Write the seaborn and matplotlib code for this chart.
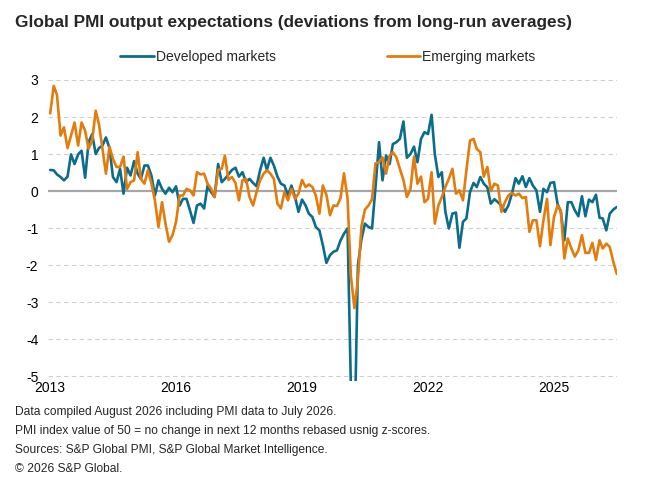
import pandas as pd
import numpy as np
import matplotlib
matplotlib.use("Agg")
import matplotlib.pyplot as plt
from matplotlib.lines import Line2D
import seaborn as sns

# monthly readings, Jan 2013 - Jul 2026
months = pd.date_range("2013-01-01", "2026-07-01", freq="MS")

developed = [
    0.57, 0.56, 0.45, 0.38, 0.29, 0.39, 0.99, 0.73, 0.99, 1.09,
    0.36, 1.32, 1.54, 1.0, 1.16, 1.23, 1.45, 1.16, 0.38, 0.24,
    0.6, -0.07, 0.63, 0.42, 0.81, 0.47, 0.33, 0.69, 0.69, 0.42,
    -0.12, 0.29, 0.06, -0.07, 0.09, -0.03, 0.13, -0.39, -0.21, -0.21,
    -0.52, -0.86, -0.39, -0.34, -0.47, 0.15, -0.03, -0.16, 0.73, 0.24,
    0.33, 0.45, 0.57, 0.63, 0.39, 0.51, 0.24, 0.33, 0.22, 0.13,
    0.56, 0.9, 0.57, 0.9, 0.69, 0.39, 0.2, 0.15, -0.12, 0.15,
    -0.16, -0.56, -0.23, -0.39, -0.61, -0.7, -0.97, -1.06, -1.46, -1.94,
    -1.73, -1.64, -1.6, -1.34, -1.15, -1.01, -5.3, -6.8, -2.0, -1.3,
    -0.88, -0.97, -1.01, 0.1, 1.32, 0.29, 0.96, 0.73, 1.27, 1.32,
    1.41, 1.88, 0.9, 1.0, 1.2, 0.78, 1.41, 1.59, 1.54, 2.06,
    1.0, 0.38, 0.51, -0.56, -1.01, -0.61, -0.58, -1.53, -0.83, -0.74,
    -0.03, 0.22, 0.11, 0.38, 0.2, 0.1, -0.34, -0.22, -0.3, -0.39,
    -0.56, -0.39, -0.07, 0.35, 0.2, 0.4, 0.11, 0.35, 0.15, 0.02,
    -0.56, 0.06, -0.03, 0.22, 0.24, -0.35, -0.55, -1.33, -0.3, -0.3,
    -0.52, -0.68, -0.14, -0.68, -0.23, -0.3, -0.1, -0.72, -0.74, -1.06,
    -0.61, -0.5, -0.43,
]

emerging = [
    2.1, 2.84, 2.6, 1.5, 1.72, 1.16, 1.5, 1.85, 1.23, 1.85,
    1.63, 1.14, 1.36, 2.17, 1.81, 1.14, 0.47, 1.2, 0.87, 0.65,
    0.65, 0.93, 0.06, 0.24, 0.29, 1.05, 0.33, 0.2, 0.56, 0.2,
    -0.25, -0.97, -0.3, -0.88, -1.37, -1.19, -0.83, -0.12, -0.12, 0.06,
    0.02, -0.12, 0.51, 0.45, 0.47, 0.2, 0.06, -0.16, 0.57, 0.6,
    0.96, 0.3, 0.38, 0.22, -0.25, 0.29, 0.33, -0.16, -0.39, -0.03,
    0.29, 0.47, 0.56, 0.47, 0.33, -0.34, -0.47, -0.03, -0.25, 0.06,
    -0.21, -0.07, 0.3, 0.11, 0.18, 0.11, -0.12, -0.61, 0.15, -0.1,
    -0.65, -0.39, -0.4, -0.2, 0.48, -0.2, -2.3, -3.16, -2.4, -0.95,
    -0.5, -0.39, -0.22, 0.75, 0.78, 0.91, 0.47, 0.96, 1.05, 0.91,
    0.6, 0.3, -0.16, 0.05, 0.93, 0.2, 0.39, -0.3, -0.21, 0.51,
    -0.88, -0.39, -0.16, 0.11, 0.33, 0.6, -0.07, 0.02, -0.25, 0.56,
    1.36, 1.41, 1.14, 1.05, 0.39, 0.65, 0.0, 0.2, 0.15, -0.56,
    -0.3, -0.12, -0.05, -0.12, -0.07, -0.19, -0.16, -1.1, -0.79, -0.79,
    -1.49, -0.79, -0.21, -1.46, -0.7, -0.39, -0.52, -1.82, -1.28, -1.55,
    -1.77, -1.6, -1.19, -1.67, -1.67, -1.4, -1.86, -1.33, -1.55, -1.42,
    -1.51, -1.91, -2.24,
]

series_names = ["Developed markets", "Emerging markets"]
colors = ["#0b6d8b", "#e37c0c"]
year_ticks = [2013, 2016, 2019, 2022, 2025]

notes = [
    "Data compiled August 2026 including PMI data to July 2026.",
    "PMI index value of 50 = no change in next 12 months rebased usnig z-scores.",
    "Sources: S&P Global PMI, S&P Global Market Intelligence.",
    "\u00a9 2026 S&P Global.",
]

df = pd.concat([
    pd.DataFrame({"date": months, "value": developed, "series": series_names[0]}),
    pd.DataFrame({"date": months, "value": emerging, "series": series_names[1]}),
])

sns.set_style("white")
plt.rcParams["font.family"] = ["Liberation Sans", "DejaVu Sans"]

fig = plt.figure(figsize=(6.58, 4.98), dpi=100)
ax = fig.add_axes([48 / 658, 1 - 381 / 498, (617 - 48) / 658, (381 - 80) / 498])

# grid first so lines sit on top
for v in range(-5, 4):
    if v == 0:
        continue
    ax.axhline(v, color="#d0d0d0", lw=0.8, ls=(0, (4, 3)), zorder=0)
ax.axhline(0, color="#a6a6a6", lw=1.6, zorder=1)

sns.lineplot(data=df, x="date", y="value", hue="series", palette=colors,
             hue_order=series_names, linewidth=1.9, legend=False, ax=ax, zorder=3)

ax.set_ylim(-5.13, 3.0)
ax.set_xlim(pd.Timestamp("2012-12-13"), pd.Timestamp("2026-07-03"))
ax.set_yticks(range(-5, 4))
ax.set_yticklabels([str(v) for v in range(-5, 4)])
ax.set_xticks([pd.Timestamp(f"{y}-01-01") for y in year_ticks])
ax.set_xticklabels([str(y) for y in year_ticks])
ax.tick_params(axis="both", length=0, labelsize=10, colors="black")
ax.tick_params(axis="y", pad=7)
ax.tick_params(axis="x", pad=0)
for lbl in ax.get_yticklabels():
    lbl.set_verticalalignment("center_baseline")
ax.set_xlabel("")
ax.set_ylabel("")
for s in ax.spines.values():
    s.set_visible(False)

fig.text(15 / 658, 1 - 22 / 498, "Global PMI output expectations (deviations from long-run averages)",
         fontsize=12.4, fontweight="bold", va="center", ha="left")

handles = [Line2D([0], [0], color=c, lw=2) for c in colors]
fig.legend(handles, series_names, loc="center", bbox_to_anchor=(328 / 658, 1 - 57 / 498),
           ncol=2, frameon=False, fontsize=10, handlelength=2.4, handletextpad=0.15,
           columnspacing=8.0)

for k, line in enumerate(notes):
    fig.text(15 / 658, 1 - (412 + 19 * k) / 498, line, fontsize=8.65, va="center", ha="left")

fig.savefig("out.png", dpi=100)
